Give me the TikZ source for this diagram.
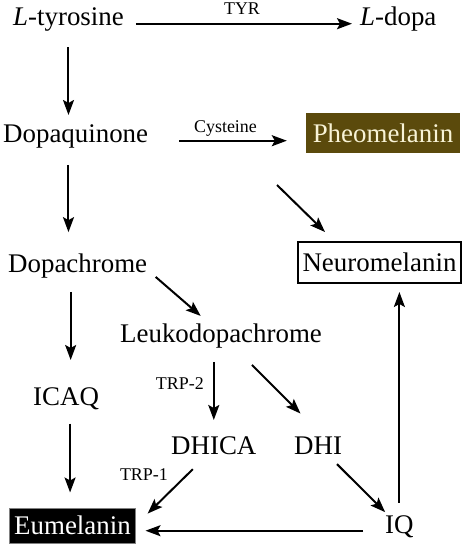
\documentclass[tikz,border=0pt]{standalone}
\usepackage{fontspec}
\setmainfont{Liberation Serif}
\usetikzlibrary{arrows.meta}
\definecolor{pheobrown}{RGB}{91,74,12}
\definecolor{pheotext}{RGB}{248,243,214}
\tikzset{
  chem/.style={font=\fontsize{27}{30}\selectfont,inner sep=0pt,anchor=base west},
  enz/.style={font=\fontsize{18}{20}\selectfont,inner sep=0pt},
  arr/.style={-{Stealth[length=15bp,width=11bp,inset=3bp]},line width=2bp}
}
\begin{document}
\begin{tikzpicture}[x=1bp,y=-1bp]
\useasboundingbox (0,0) rectangle (464,547);
\node[chem] (ltyr) at (13,26) {\textit{L}-tyrosine};
\node[chem] (ldopa) at (360,26) {\textit{L}-dopa};
\node[chem] (dq) at (3,143) {Dopaquinone};
\node[chem,anchor=center,fill=pheobrown,text=pheotext,minimum width=154bp,minimum height=40bp] (pheo) at (383,133) {Pheomelanin};
\node[chem] (dc) at (8,272) {Dopachrome};
\node[chem,anchor=center,draw,line width=2bp,minimum width=163bp,minimum height=41bp] (neuro) at (379.5,262.5) {Neuromelanin};
\node[chem] (leuko) at (120,342) {Leukodopachrome};
\node[chem] (icaq) at (33,405) {ICAQ};
\node[chem] (dhica) at (171,454) {DHICA};
\node[chem] (dhi) at (294,454) {DHI};
\node[chem] (iq) at (385,533) {IQ};
\node[chem,anchor=center,fill=black,draw=gray,line width=1bp,text=white,minimum width=125bp,minimum height=35bp] (eu) at (72.5,525.5) {Eumelanin};
\coordinate (nmfrom) at (277,185);
\draw[arr,shorten <=12bp,shorten >=8bp] (ltyr.mid east) -- (ldopa.mid west) node[enz,midway,above=8bp] {TYR};
\draw[arr,shorten <=15bp,shorten >=10bp] (ltyr.south) -- (ltyr.south |- dq.north);
\draw[arr,shorten <=16bp,shorten >=21bp] (dq.south -| ltyr.south) -- (ltyr.south |- dc.north);
\draw[arr,shorten <=31bp,shorten >=19bp] (dq.mid east) -- (dq.mid east -| pheo.west) node[enz,pos=0.49,above=3bp] {Cysteine};
\draw[arr] (nmfrom) -- ([xshift=28bp,yshift=9bp]neuro.north west);
\draw[arr,shorten <=11bp,shorten >=11bp] (dc.mid east) -- ([xshift=-12bp]leuko.north);
\draw[arr,shorten <=14bp,shorten >=27bp] ([xshift=-7bp]dc.south) -- ([xshift=-7bp]dc.south |- icaq.north);
\draw[arr,shorten <=14bp,shorten >=15bp] ([xshift=4bp]icaq.south) -- ([xshift=4bp]icaq.south |- eu.north);
\draw[arr,shorten <=14bp,shorten >=16bp] (dhica.north |- leuko.south) -- (dhica.north) node[enz,pos=0.4,left=9bp] {TRP-2};
\draw[arr,shorten <=24bp,shorten >=32bp] ([xshift=14bp]leuko.south) -- ([xshift=5bp]dhi.north);
\draw[arr,shorten <=21bp,shorten >=17bp] ([xshift=-6bp]dhica.south) -- (eu.east) node[enz,pos=0.29,left=18bp] {TRP-1};
\draw[arr,shorten <=14bp,shorten >=4bp] ([xshift=9bp]dhi.south) -- ([xshift=3bp]iq.north west);
\draw[arr,shorten <=22bp,shorten >=10bp] (iq.mid west) -- (iq.mid west -| eu.east);
\draw[arr,shorten <=12bp,shorten >=8bp] (iq.north) -- (iq.north |- neuro.south);
\end{tikzpicture}
\end{document}
